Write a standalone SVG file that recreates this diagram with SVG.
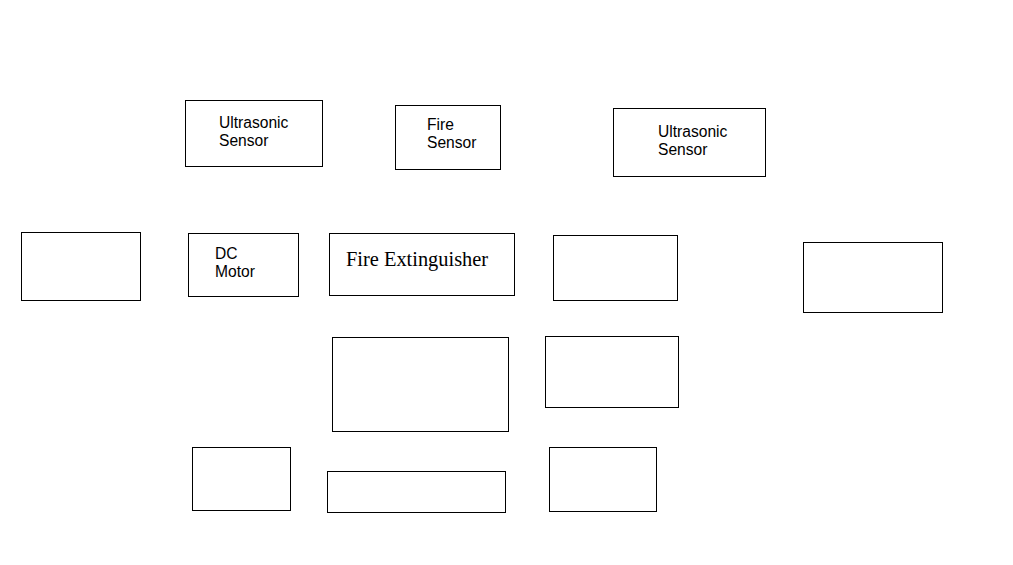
<svg xmlns="http://www.w3.org/2000/svg" width="1013" height="565" viewBox="0 0 1013 565">
<style>
rect{fill:#fff;stroke:#000;stroke-width:1}
.t{font-family:"Liberation Sans",Arial,sans-serif;font-size:15.6px;fill:#000}
.s{font-family:"Liberation Serif","Times New Roman",serif;font-size:20.4px;fill:#000}
</style>
<rect x="0" y="0" width="1013" height="565" style="stroke:none"/>
<g id="connectors"></g>
<g id="n1"><rect x="185.5" y="100.5" width="137" height="66"/><text class="t" x="219" y="128">Ultrasonic</text><text class="t" x="219" y="146">Sensor</text></g>
<g id="n2"><rect x="395.5" y="105.5" width="105" height="64"/><text class="t" x="427" y="130">Fire</text><text class="t" x="427" y="148">Sensor</text></g>
<g id="n3"><rect x="613.5" y="108.5" width="152" height="68"/><text class="t" x="658" y="137">Ultrasonic</text><text class="t" x="658" y="155">Sensor</text></g>
<g id="n4"><rect x="21.5" y="232.5" width="119" height="68"/></g>
<g id="n5"><rect x="188.5" y="233.5" width="110" height="63"/><text class="t" x="215" y="259">DC</text><text class="t" x="215" y="277">Motor</text></g>
<g id="n6"><rect x="329.5" y="233.5" width="185" height="62"/><text class="s" x="346" y="266">Fire Extinguisher</text></g>
<g id="n7"><rect x="553.5" y="235.5" width="124" height="65"/></g>
<g id="n8"><rect x="803.5" y="242.5" width="139" height="70"/></g>
<g id="n9"><rect x="332.5" y="337.5" width="176" height="94"/></g>
<g id="n10"><rect x="545.5" y="336.5" width="133" height="71"/></g>
<g id="n11"><rect x="192.5" y="447.5" width="98" height="63"/></g>
<g id="n12"><rect x="327.5" y="471.5" width="178" height="41"/></g>
<g id="n13"><rect x="549.5" y="447.5" width="107" height="64"/></g>
</svg>
